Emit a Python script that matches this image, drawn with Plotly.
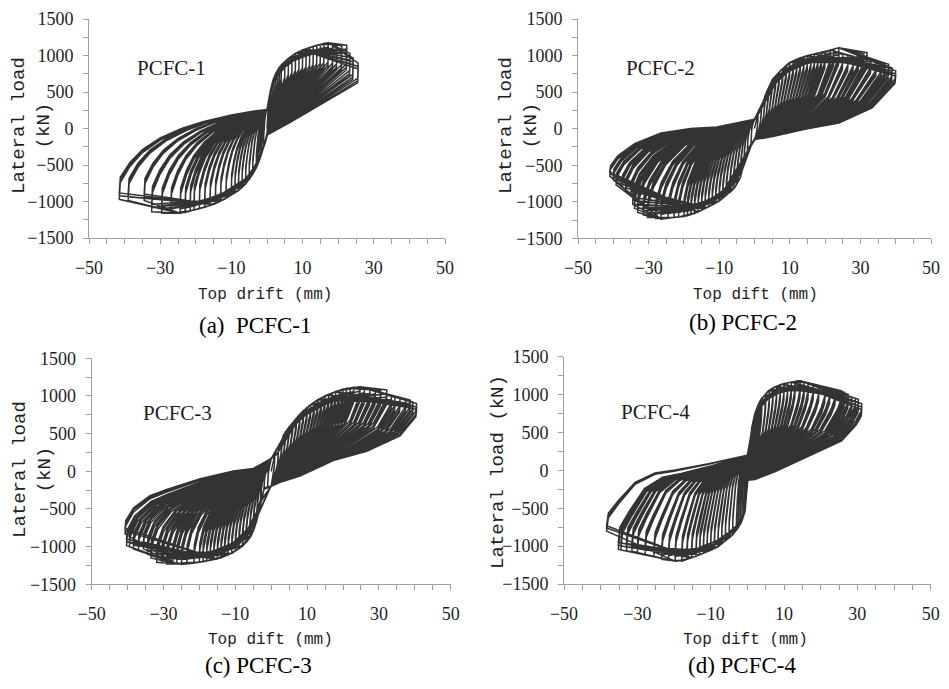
import plotly.graph_objects as go

# ---------------- data ----------------
# Each specimen: peak drift / peak load of every drift level (positive and negative),
# load ratio of the repeated cycles at a level, skeleton (loading branch) points,
# unloading-path shape (fraction of peak drift t, fraction of load between pinch load
# and peak g), and pinch loads at zero drift.

# PCFC-1
a_pos_x = [0.5, 1.0, 1.5, 2.0, 2.5, 3.0, 3.5, 4.0, 5.0, 6.0, 7.0, 8.0, 9.0, 10.0, 11.0, 12.0, 13.0, 14.0,
           15.0, 16.0, 17.2, 18.5, 19.6, 21.0, 22.4, 23.3, 24.2, 25.6]
a_pos_F = [400, 530, 630, 700, 760, 800, 840, 870, 915, 960, 995, 1030, 1055, 1075, 1095, 1110, 1125, 1140,
           1150, 1165, 1175, 1160, 1141, 1130, 1141, 1029, 962, 895]
a_neg_x = [-1.0, -1.5, -2.0, -2.5, -3.0, -4.0, -5.0, -6.0, -7.0, -8.0, -9.0, -10.0, -11.5, -13.0, -14.5, -16.0,
           -17.5, -19.0, -20.5, -21.6, -23.0, -24.4, -27.0, -29.6, -32.4, -34.5, -39.0, -41.5]
a_neg_F = [-260, -330, -420, -480, -540, -626, -700, -760, -810, -850, -880, -910, -950, -990, -1025, -1055,
           -1080, -1100, -1115, -1130, -1150, -1160, -1160, -1160, -1140, -985, -985, -970]
a_repeat = [1.0, 0.95, 0.91]
a_bb_pos_x = [0.5, 1.0, 1.7, 2.5, 3.5, 4.5, 6.0, 8.0, 10.0, 12.0, 14.0, 16.0, 17.2]
a_bb_pos_F = [400, 530, 666, 760, 840, 895, 960, 1030, 1075, 1110, 1140, 1165, 1175]
a_bb_neg_x = [-0.5, -1.1, -2.0, -3.0, -4.0, -6.0, -8.0, -9.5, -12.0, -15.0, -18.8, -22.0, -24.4]
a_bb_neg_F = [-200, -276, -420, -540, -626, -760, -850, -895, -970, -1040, -1096, -1130, -1160]
a_unl_pos_t = [1.0, 0.995, 0.75, 0.5, 0.25, 0.0]
a_unl_pos_g = [1.0, 0.79, 0.59, 0.39, 0.19, 0.0]
a_unl_neg_t = [1.0, 0.993, 0.928, 0.843, 0.723, 0.578, 0.434, 0.241, 0.096, 0.0]
a_unl_neg_g = [1.0, 0.813, 0.634, 0.480, 0.341, 0.228, 0.146, 0.065, 0.020, 0.0]
a_pinch = [-90, 260]

# PCFC-2
b_pos_x = [1, 2, 3, 4, 5, 6, 7, 8, 9, 10, 11, 12, 13, 14, 15, 16, 17, 18, 19, 20, 21.5, 22.5, 23.9, 25.0,
           26.5, 28.0, 29.5, 31.0, 31.9, 33.0, 34.5, 36.0, 37.0, 38.0, 39.0, 40.0]
b_pos_F = [200, 330, 450, 560, 665, 720, 775, 820, 865, 905, 930, 950, 970, 985, 1000, 1010, 1020, 1030,
           1040, 1050, 1070, 1085, 1106, 1020, 1000, 990, 1010, 1020, 1039, 960, 920, 900, 880, 881, 830, 790]
b_neg_x = [-1, -2, -3, -4, -5, -6, -7, -8, -9, -10, -11, -12, -13, -14, -15, -16, -17, -18, -19, -20, -21.5,
           -22.8, -24.5, -26.5, -28.0, -30.3, -31.5, -33.1, -34.0, -34.5, -35.0, -36.5, -37.5, -39.2, -40.0, -41.0]
b_neg_F = [-240, -310, -500, -670, -760, -830, -875, -905, -950, -990, -1020, -1045, -1070, -1090, -1115,
           -1140, -1160, -1175, -1190, -1200, -1210, -1214, -1225, -1237, -1230, -1214, -1180, -1147, -1090,
           -1036, -902, -850, -800, -768, -700, -650]
b_repeat = [1.0, 0.95, 0.91]
b_bb_pos_x = [1.5, 3.4, 5.2, 7.5, 9.9, 12.0, 14.6, 17.0, 19.2, 21.5, 23.9]
b_bb_pos_F = [231, 500, 680, 800, 904, 950, 994, 1020, 1040, 1075, 1106]
b_bb_neg_x = [-1.0, -2.2, -4.1, -5.5, -7.8, -10.0, -13.5, -16.0, -19.1, -22.8, -26.5]
b_bb_neg_F = [-240, -321, -679, -800, -902, -990, -1080, -1140, -1192, -1214, -1237]
b_unl_pos_t = [1.0, 0.995, 0.833, 0.598, 0.365, 0.13, 0.0]
b_unl_pos_g = [1.0, 0.883, 0.501, 0.263, 0.167, 0.048, 0.0]
b_unl_neg_t = [1.0, 0.995, 0.944, 0.829, 0.646, 0.441, 0.261, 0.1, 0.0]
b_unl_neg_g = [1.0, 0.885, 0.694, 0.464, 0.264, 0.178, 0.15, 0.064, 0.0]
b_pinch = [-150, 130]

# PCFC-3
c_pos_x = [1, 2, 3, 4, 5, 6, 7, 8, 9, 10, 11, 12, 13, 14, 15, 16, 17, 18, 19, 20, 21, 22, 23, 24.7,
           26.0, 27.5, 29.0, 30.5, 32.2, 33.5, 34.5, 35.9, 37.5, 38.7, 39.5, 40.5]
c_pos_F = [220, 260, 420, 530, 590, 645, 700, 760, 810, 850, 885, 915, 950, 975, 1000, 1020, 1040, 1060,
           1075, 1090, 1100, 1105, 1115, 1123, 1100, 1090, 1080, 1070, 1080, 1000, 980, 968, 955, 946, 920, 900]
c_neg_x = [-1, -2, -3, -4, -5, -6, -7, -8, -9, -10, -11, -12, -13, -14, -15, -16, -17, -18, -19, -20, -21.5,
           -23.5, -25.0, -26.3, -27.5, -29.1, -30.5, -31.9, -33.5, -34.5, -35.6, -37.0, -38.4, -39.5, -40.3, -40.7]
c_neg_F = [-220, -240, -430, -650, -800, -890, -950, -990, -1025, -1060, -1090, -1110, -1130, -1150, -1163,
           -1170, -1180, -1190, -1200, -1208, -1215, -1230, -1235, -1230, -1225, -1230, -1215, -1208, -1150,
           -1100, -1030, -1040, -1030, -1000, -986, -830]
c_repeat = [1.0, 0.95, 0.91]
c_bb_pos_x = [2.0, 3.4, 5.0, 6.2, 8.5, 10.8, 13.0, 15.5, 18.0, 21.0, 24.7]
c_bb_pos_F = [260, 480, 590, 657, 780, 879, 950, 1012, 1060, 1100, 1123]
c_bb_neg_x = [-2.0, -3.1, -4.0, -5.5, -7.8, -11.0, -15.2, -19.0, -23.5, -26.3]
c_bb_neg_F = [-240, -453, -650, -850, -986, -1090, -1163, -1200, -1230, -1230]
c_unl_pos_t = [1.0, 0.995, 0.886, 0.657, 0.427, 0.198, 0.062, 0.0]
c_unl_pos_g = [1.0, 0.909, 0.658, 0.456, 0.335, 0.134, 0.053, 0.0]
c_unl_neg_t = [1.0, 0.995, 0.943, 0.830, 0.715, 0.486, 0.258, 0.123, 0.0]
c_unl_neg_g = [1.0, 0.89, 0.712, 0.534, 0.445, 0.29, 0.179, 0.143, 0.0]
c_pinch = [-200, 170]

# PCFC-4
d_pos_x = [0.5, 1.0, 1.5, 2.0, 2.5, 3.0, 3.5, 4.0, 5.0, 6.0, 7.0, 8.0, 9.0, 10.0, 11.0, 12.0, 13.0, 14.4,
           15.5, 16.6, 18.0, 19.5, 21.2, 22.5, 24.0, 25.7, 26.5, 27.5, 28.5, 29.5, 30.3, 31.2]
d_pos_F = [320, 500, 640, 740, 810, 872, 920, 960, 1010, 1055, 1090, 1110, 1130, 1145, 1155, 1165, 1175, 1181,
           1170, 1158, 1140, 1115, 1092, 1080, 1065, 1048, 1030, 1004, 960, 950, 938, 880]
d_neg_x = [-0.3, -0.6, -1.0, -1.5, -2.0, -2.5, -3.0, -4.0, -5.0, -6.0, -7.0, -8.0, -9.0, -10.0, -11.0, -12.0,
           -13.0, -14.0, -15.2, -16.5, -17.9, -19.7, -21.5, -23.4, -25.5, -27.9, -30.0, -31.5, -33.0, -34.5,
           -35.2, -38.4]
d_neg_F = [-330, -530, -600, -670, -720, -758, -790, -850, -895, -930, -965, -1005, -1030, -1055, -1075, -1095,
           -1115, -1135, -1154, -1175, -1198, -1198, -1185, -1176, -1140, -1110, -1090, -1066, -1060, -1050,
           -1044, -802]
d_repeat = [1.0, 0.95, 0.91]
d_bb_pos_x = [0.8, 1.2, 2.0, 3.0, 4.3, 5.7, 7.5, 9.4, 12.0, 14.4]
d_bb_pos_F = [350, 564, 740, 872, 970, 1048, 1100, 1136, 1165, 1181]
d_bb_neg_x = [-0.2, -0.6, -1.5, -2.5, -4.0, -6.1, -8.0, -10.6, -13.0, -15.2, -17.9, -19.7]
d_bb_neg_F = [-300, -537, -670, -758, -850, -934, -1010, -1066, -1115, -1154, -1190, -1198]
d_unl_pos_t = [1.0, 0.995, 0.95, 0.824, 0.532, 0.24, 0.067, 0.0]
d_unl_pos_g = [1.0, 0.905, 0.782, 0.556, 0.338, 0.12, 0.011, 0.0]
d_unl_neg_t = [1.0, 0.987, 0.917, 0.797, 0.656, 0.513, 0.276, 0.089, 0.0]
d_unl_neg_g = [1.0, 0.823, 0.648, 0.384, 0.252, 0.209, 0.121, 0.033, 0.0]
d_pinch = [-130, 200]

panel_names = ["PCFC-1", "PCFC-2", "PCFC-3", "PCFC-4"]
captions = ["(a)  PCFC-1", "(b) PCFC-2", "(c) PCFC-3", "(d) PCFC-4"]
x_titles = ["Top drift (mm)", "Top dift (mm)", "Top dift (mm)", "Top dift (mm)"]
y_titles = ["Lateral load<br>(kN)", "Lateral load<br>(kN)", "Lateral load<br>(kN)", "Lateral load (kN)"]
x_ticks = [-50, -30, -10, 10, 30, 50]
y_ticks = [-1500, -1000, -500, 0, 500, 1000, 1500]

specimens = [
    (a_pos_x, a_pos_F, a_neg_x, a_neg_F, a_repeat, a_bb_pos_x, a_bb_pos_F, a_bb_neg_x, a_bb_neg_F,
     a_unl_pos_t, a_unl_pos_g, a_unl_neg_t, a_unl_neg_g, a_pinch),
    (b_pos_x, b_pos_F, b_neg_x, b_neg_F, b_repeat, b_bb_pos_x, b_bb_pos_F, b_bb_neg_x, b_bb_neg_F,
     b_unl_pos_t, b_unl_pos_g, b_unl_neg_t, b_unl_neg_g, b_pinch),
    (c_pos_x, c_pos_F, c_neg_x, c_neg_F, c_repeat, c_bb_pos_x, c_bb_pos_F, c_bb_neg_x, c_bb_neg_F,
     c_unl_pos_t, c_unl_pos_g, c_unl_neg_t, c_unl_neg_g, c_pinch),
    (d_pos_x, d_pos_F, d_neg_x, d_neg_F, d_repeat, d_bb_pos_x, d_bb_pos_F, d_bb_neg_x, d_bb_neg_F,
     d_unl_pos_t, d_unl_pos_g, d_unl_neg_t, d_unl_neg_g, d_pinch),
]


def hysteresis(px, pF, nx, nF, rep, bpx, bpF, bnx, bnF, upt, upg, unt, ung, pinch):
    p_neg, p_pos = pinch
    xs, ys = [0.0], [0.0]
    for xp, Fp0, xn, Fn0 in zip(px, pF, nx, nF):
        for j, k in enumerate(rep):
            Fp, Fn = Fp0 * k, Fn0 * k
            frac = 0.85 if j == 0 else 0.45
            for bx, bF in zip(bpx, bpF):
                if bx < frac * xp:
                    xs.append(bx); ys.append(bF)
            xs.append(xp); ys.append(Fp)
            for t, g in zip(upt[1:], upg[1:]):
                xs.append(t * xp); ys.append(p_neg + g * (Fp - p_neg))
            for bx, bF in zip(bnx, bnF):
                if bx > frac * xn:
                    xs.append(bx); ys.append(bF)
            xs.append(xn); ys.append(Fn)
            for t, g in zip(unt[1:], ung[1:]):
                xs.append(t * xn); ys.append(p_pos + g * (Fn - p_pos))
    return xs, ys


# The page body has an 8 px margin, so the figure is placed 8 px in from the window corner.
OFF = 8
WIN_W, WIN_H = 949, 689
W, H = WIN_W - 2 * OFF, WIN_H - 2 * OFF


def fx(p):
    return (p - OFF) / W


def fy(p):
    return 1 - (p - OFF) / H


# plot-area pixel boxes in the window (left, right, top, bottom)
boxes = [(89, 445, 19, 238), (578, 931, 19, 238.3), (91.7, 450.7, 358.3, 584.3), (564, 930.7, 356.7, 584)]

fig = go.Figure()
axis_col = "#a0a0a0"
ink = "#333333"
txt = "#1e1e1e"
tick_font = dict(family="Liberation Serif, Times New Roman, serif", size=18, color=txt)

for i, (spec, box) in enumerate(zip(specimens, boxes)):
    xs, ys = hysteresis(*spec)
    n = "" if i == 0 else str(i + 1)
    fig.add_trace(go.Scatter(x=xs, y=ys, mode="lines", line=dict(color=ink, width=1.5),
                             xaxis="x" + n, yaxis="y" + n, showlegend=False, hoverinfo="skip"))
    l, r, t, b = box
    fig.layout["xaxis" + n] = dict(
        domain=[fx(l), fx(r)], anchor="y" + n, range=[-50, 50], tickvals=x_ticks, automargin=False,
        showline=True, linecolor=axis_col, linewidth=1, showgrid=False, zeroline=False,
        ticks="outside", ticklen=5, tickcolor=axis_col, ticklabeloverflow="allow",
        minor=dict(dtick=5, tick0=-50, ticks="outside", ticklen=5, tickcolor=axis_col, showgrid=False),
        tickfont=tick_font, ticklabelstandoff=8)
    fig.layout["yaxis" + n] = dict(
        domain=[fy(b), fy(t)], anchor="x" + n, range=[-1500, 1500], tickvals=y_ticks, automargin=False,
        showline=True, linecolor=axis_col, linewidth=1, showgrid=False, zeroline=False,
        ticks="outside", ticklen=5, tickcolor=axis_col, ticklabeloverflow="allow",
        minor=dict(dtick=250, tick0=-1500, ticks="outside", ticklen=5, tickcolor=axis_col, showgrid=False),
        tickfont=tick_font, ticklabelstandoff=6)

# text positions in window pixels
name_pos = [(171, 68), (660, 68), (177, 413), (655, 412)]
cap_pos = [(255, 325), (743, 322), (258, 665), (742, 665)]
xt_pos = [(265, 295), (755, 295), (270, 640), (745, 640)]
yt_pos = [(31, 126), (518, 126), (32, 470), (498, 472)]

ann = []
for i in range(4):
    ann.append(dict(text=panel_names[i], x=fx(name_pos[i][0]), y=fy(name_pos[i][1]),
                    xref="paper", yref="paper", showarrow=False, xanchor="center", yanchor="middle",
                    font=dict(family="Liberation Serif", size=21, color=txt)))
    ann.append(dict(text=captions[i], x=fx(cap_pos[i][0]), y=fy(cap_pos[i][1]),
                    xref="paper", yref="paper", showarrow=False, xanchor="center", yanchor="middle",
                    font=dict(family="Liberation Serif", size=23, color="#000000")))
    ann.append(dict(text=x_titles[i], x=fx(xt_pos[i][0]), y=fy(xt_pos[i][1]),
                    xref="paper", yref="paper", showarrow=False, xanchor="center", yanchor="middle",
                    font=dict(family="Liberation Mono", size=16, color=txt)))
    ann.append(dict(text=y_titles[i], x=fx(yt_pos[i][0]), y=fy(yt_pos[i][1]), textangle=-90,
                    xref="paper", yref="paper", showarrow=False, xanchor="center", yanchor="middle",
                    font=dict(family="Liberation Mono", size=19, color=txt)))

fig.update_layout(template="none", width=W, height=H, margin=dict(l=0, r=0, t=0, b=0, autoexpand=False),
                  paper_bgcolor="white", plot_bgcolor="white", annotations=ann)

fig.write_html("out.html")
